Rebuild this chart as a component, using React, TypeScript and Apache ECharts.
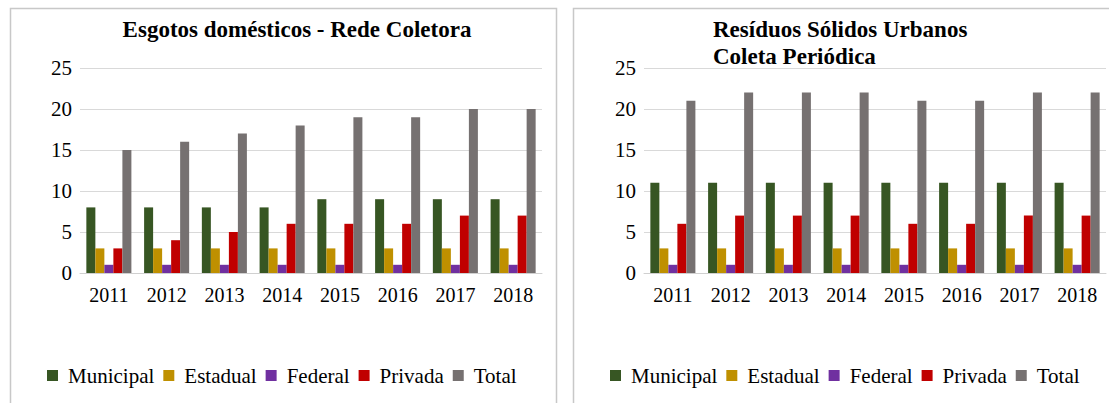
import React, { useEffect, useRef } from "react";
import * as echarts from "echarts";

const years = ["2011", "2012", "2013", "2014", "2015", "2016", "2017", "2018"];
const seriesNames = ["Municipal", "Estadual", "Federal", "Privada", "Total"];
const colors = ["#375623", "#bf9000", "#7030a0", "#c00000", "#767171"];

const esgMunicipal = [8, 8, 8, 8, 9, 9, 9, 9];
const esgEstadual = [3, 3, 3, 3, 3, 3, 3, 3];
const esgFederal = [1, 1, 1, 1, 1, 1, 1, 1];
const esgPrivada = [3, 4, 5, 6, 6, 6, 7, 7];
const esgTotal = [15, 16, 17, 18, 19, 19, 20, 20];

const rsuMunicipal = [11, 11, 11, 11, 11, 11, 11, 11];
const rsuEstadual = [3, 3, 3, 3, 3, 3, 3, 3];
const rsuFederal = [1, 1, 1, 1, 1, 1, 1, 1];
const rsuPrivada = [6, 7, 7, 7, 6, 6, 7, 7];
const rsuTotal = [21, 22, 22, 22, 21, 21, 22, 22];

const yTicks = { min: 0, max: 25, interval: 5 };

const FONT = "Liberation Serif";

export default function App() {
  const ref = useRef<HTMLDivElement>(null);
  useEffect(() => {
    if (!ref.current) return;
    const chart = echarts.init(ref.current, null, { renderer: "svg" });
    const leftData = [esgMunicipal, esgEstadual, esgFederal, esgPrivada, esgTotal];
    const rightData = [rsuMunicipal, rsuEstadual, rsuFederal, rsuPrivada, rsuTotal];
    const mkSeries = (data: number[][], idx: number) =>
      data.map((d, i) => ({
        type: "bar",
        name: seriesNames[i],
        xAxisIndex: idx,
        yAxisIndex: idx,
        data: d,
        barGap: "0%",
        barCategoryGap: "22%",
        itemStyle: { color: colors[i] },
      }));
    const xAxis = (gridIndex: number) => ({
      type: "category",
      gridIndex,
      data: years,
      axisLine: { lineStyle: { color: "#d0d0d0" } },
      axisTick: { show: false },
      axisLabel: { color: "#000", fontFamily: FONT, fontSize: 20, margin: 12 },
    });
    const yAxis = (gridIndex: number) => ({
      type: "value",
      gridIndex,
      min: yTicks.min,
      max: yTicks.max,
      interval: yTicks.interval,
      axisLine: { show: false },
      axisTick: { show: false },
      splitLine: { lineStyle: { color: "#d9d9d9" } },
      axisLabel: { color: "#000", fontFamily: FONT, fontSize: 21, margin: 8 },
    });
    const legend = (left: number) => ({
      data: seriesNames,
      left,
      top: 365,
      padding: 0,
      icon: "rect",
      itemWidth: 11,
      itemHeight: 11,
      itemGap: 9,
      textStyle: { color: "#000", fontFamily: FONT, fontSize: 21, padding: [0, 0, 0, 5] },
      selectedMode: false,
    });
    chart.setOption({
      animation: false,
      backgroundColor: "#fff",
      textStyle: { fontFamily: FONT },
      title: [
        {
          text: "Esgotos domésticos - Rede Coletora",
          left: 292,
          textAlign: "center",
          top: 13,
          textStyle: { fontFamily: FONT, fontSize: 23, fontWeight: "bold", color: "#000" },
        },
        {
          text: "Resíduos Sólidos Urbanos\nColeta Periódica",
          left: 708,
          top: 11,
          textStyle: { fontFamily: FONT, fontSize: 23, fontWeight: "bold", color: "#000", lineHeight: 27 },
        },
      ],
      graphic: [
        { type: "rect", shape: { x: 10.5, y: 8.5, width: 546, height: 400 }, style: { fill: "none", stroke: "#c8c8c8", lineWidth: 1.5 }, silent: true },
        { type: "rect", shape: { x: 573.5, y: 8.5, width: 545, height: 400 }, style: { fill: "none", stroke: "#c8c8c8", lineWidth: 1.5 }, silent: true },
      ],
      grid: [
        { left: 80, right: 567, top: 68, height: 205 },
        { left: 644, right: 3, top: 68, height: 205 },
      ],
      xAxis: [xAxis(0), xAxis(1)],
      yAxis: [yAxis(0), yAxis(1)],
      legend: [legend(47), legend(610)],
      series: [...mkSeries(leftData, 0), ...mkSeries(rightData, 1)],
    });
    return () => chart.dispose();
  }, []);
  return (
    <div style={{ position: "fixed", left: 0, top: 0, width: 1109, height: 403, background: "#fff" }}>
      <div ref={ref} style={{ width: 1109, height: 403 }} />
    </div>
  );
}
